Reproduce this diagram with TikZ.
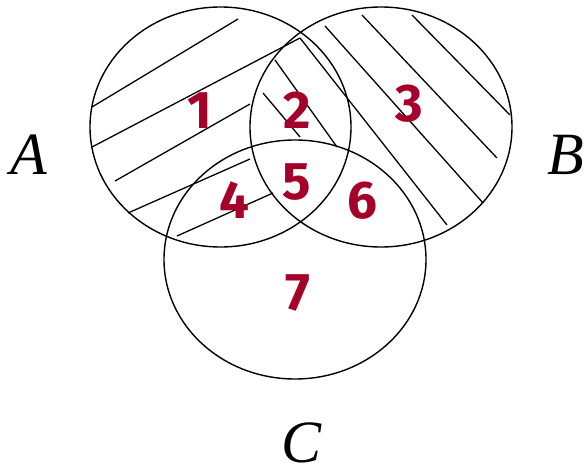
\documentclass[tikz,border=0pt]{standalone}
\usepackage{fontspec}
\setmainfont{Liberation Serif}
\newfontfamily\numfont{Fira Sans}
\definecolor{numred}{RGB}{165,0,42}
\begin{document}
\begin{tikzpicture}[x=1pt,y=-1pt,
  setline/.style={line width=1.4pt},
  hatch/.style={line width=1.3pt},
  setlabel/.style={inner sep=0pt,anchor=base,font=\fontsize{60}{60}\selectfont\itshape},
  region/.style={inner sep=0pt,text=numred,font=\fontsize{53}{53}\selectfont\numfont\bfseries}]
\useasboundingbox (0,0) rectangle (584,476);
% hatch lines in A
\draw[hatch] (92,107) -- (238,19);
\draw[hatch] (92,147) -- (300,38);
\draw[hatch] (115,181) -- (250,104);
\draw[hatch] (128,213) -- (250,159);
\draw[hatch] (177,236) -- (273,193);
% hatch lines in A and B
\draw[hatch] (275,60) -- (337,147);
\draw[hatch] (263,93) -- (300,137);
% hatch lines in B
\draw[hatch] (300,38) -- (447,225);
\draw[hatch] (325,26) -- (483,203);
\draw[hatch] (362,15) -- (497,158);
\draw[hatch] (412,15) -- (510,115);
% sets
\draw[setline] (220.5,127) ellipse [x radius=130.5, y radius=120];
\draw[setline] (381,127) ellipse [x radius=131, y radius=120];
\draw[setline] (295,259.5) ellipse [x radius=131, y radius=119.5];
% set labels
\node[setlabel] (A) at (29,175) {A};
\node[setlabel] (B) at (566,175) {B};
\node[setlabel] (C) at (302,462) {C};
% region numbers
\node[region] (r1) at (200,111) {1};
\node[region] (r2) at (297,110) {2};
\node[region] (r3) at (409,104) {3};
\node[region] (r4) at (234,200) {4};
\node[region] (r5) at (297,182) {5};
\node[region] (r6) at (362,201) {6};
\node[region] (r7) at (298,293) {7};
\end{tikzpicture}
\end{document}
